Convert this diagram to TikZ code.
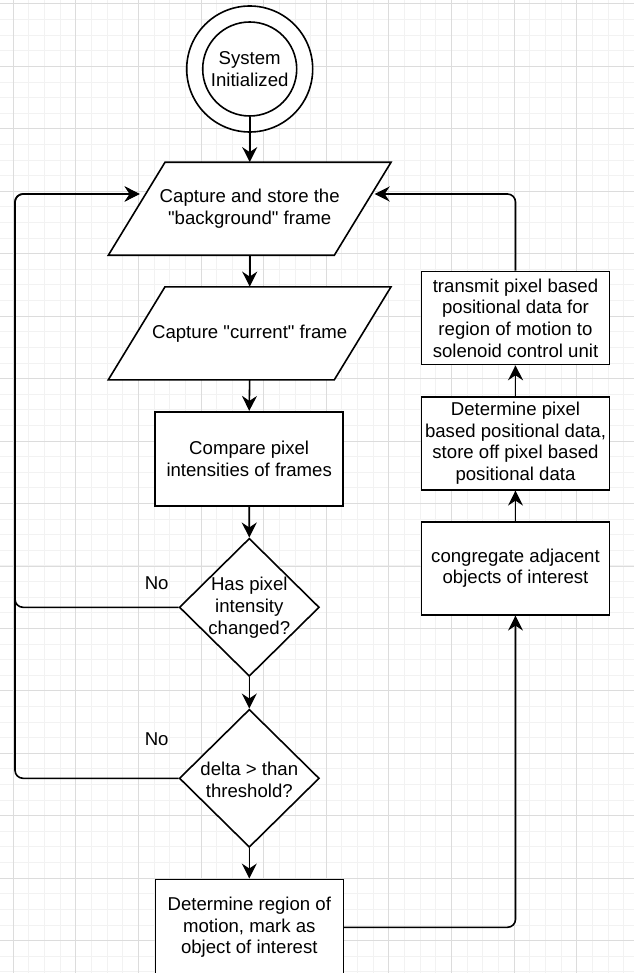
\documentclass[tikz,border=0pt]{standalone}
\usepackage{fontspec}
\setmainfont{Liberation Sans}
\usetikzlibrary{arrows.meta,calc,shapes.geometric}
\definecolor{minorgrid}{HTML}{F2F2F2}
\definecolor{majorgrid}{HTML}{DCDCDC}
\begin{document}
\begin{tikzpicture}[x=1pt,y=-1pt,
  every node/.style={font=\fontsize{18.6}{21.7}\selectfont, inner sep=0pt},
  shapeline/.style={draw, line width=1.6pt, fill=white, line join=miter},
  box/.style={shapeline, rectangle, minimum width=188pt, minimum height=94pt, align=center},
  iotext/.style={rectangle, minimum width=282.7pt, minimum height=93pt, align=center},
  decision/.style={shapeline, diamond, minimum width=140pt, minimum height=138pt},
  txt/.style={align=center},
  flow/.style={line width=1.6pt, -{Stealth[length=15pt,width=15pt,inset=5pt]}},
  loopline/.style={flow, rounded corners=8pt},
  mingrid/.style={draw=minorgrid, line width=1pt},
  majgrid/.style={draw=majorgrid, line width=1pt},
]
\clip (0,0) rectangle (634,973);
\fill[white] (0,0) rectangle (634,973);
% grid
\foreach \i in {0,...,41} { \draw[mingrid] ({-2.35+\i*15.65},0) -- ({-2.35+\i*15.65},973); }
\foreach \j in {0,...,62} { \draw[mingrid] (0,{4+\j*15.61}) -- (634,{4+\j*15.61}); }
\foreach \i in {0,...,10} { \draw[majgrid] ({13.3+\i*62.6},0) -- ({13.3+\i*62.6},973); }
\foreach \j in {0,...,15} { \draw[majgrid] (0,{4+\j*62.45}) -- (634,{4+\j*62.45}); }

% start
\node[shapeline, circle, minimum size=126pt] (s0) at (249.7,69) {};
\node[shapeline, circle, minimum size=94pt, align=center] (s) at (249.7,69) {System\\Initialized};

% parallelograms (outline drawn, then text node on top)
\coordinate (p1c) at (249.7,208.8);
\coordinate (p2c) at (249.7,333.3);
\draw[shapeline] ($(p1c)+(-84.7,-46.5)$) -- ++(226,0) -- ++(-56.7,93) -- ++(-226,0) -- cycle;
\draw[shapeline] ($(p2c)+(-84.7,-46.5)$) -- ++(226,0) -- ++(-56.7,93) -- ++(-226,0) -- cycle;
\node[iotext] (p1) at (p1c) {Capture and store the\\\textquotedbl background\textquotedbl\ frame};
\node[iotext] (p2) at (p2c) {Capture \textquotedbl current\textquotedbl\ frame};

% main column
\node[box] (cmp) at (249.2,458.7) {Compare pixel\\intensities of frames};
\node[decision] (d1) at (249.3,607.3) {};
\node[txt] (d1t) at (249.3,607.5) {Has pixel\\intensity\\changed?};
\node[decision] (d2) at (249.3,778.3) {};
\node[txt] (d2t) at (249.3,779.5) {delta > than\\threshold?};
\node[box, minimum height=96pt] (fin) at (249.3,927.3) {Determine region of\\motion, mark as\\object of interest};

% right column
\node[box, minimum height=93pt] (cg) at (515.5,568.3) {congregate adjacent\\objects of interest};
\node[box, minimum height=93pt] (dp) at (515.5,443.3) {Determine pixel\\based positional data,\\store off pixel based\\positional data};
\node[box, minimum height=93pt] (tr) at (515.5,318) {transmit pixel based\\positional data for\\region of motion to\\solenoid control unit};

% labels
\node (no1) at (156.7,583.3) {No};
\node (no2) at (156.7,739.3) {No};

% helper coordinates
\coordinate (lc) at (15,194);
\coordinate (p1in) at (145.7,194);
\coordinate (p1out) at (371.7,194);

% connectors
\draw[flow] (s.south) -- (p1.north);
\draw[flow] (p1.south) -- (p2.north);
\draw[flow] (p2.south) -- (cmp.north);
\draw[flow] (cmp.south) -- (d1.north);
\draw[flow] (d1.south) -- (d2.north);
\draw[flow] (d2.south) -- (fin.north);
\draw[flow] (cg.north) -- (dp.south);
\draw[flow] (dp.north) -- (tr.south);
\draw[loopline, shorten >=6pt] (d1.west) -| (lc) -- (p1in);
\draw[loopline, shorten >=6pt] (d2.west) -| (lc) -- (p1in);
\draw[loopline, shorten >=3pt] (tr.north) |- (p1out);
\draw[loopline] (fin.east) -| (cg.south);
\end{tikzpicture}
\end{document}
